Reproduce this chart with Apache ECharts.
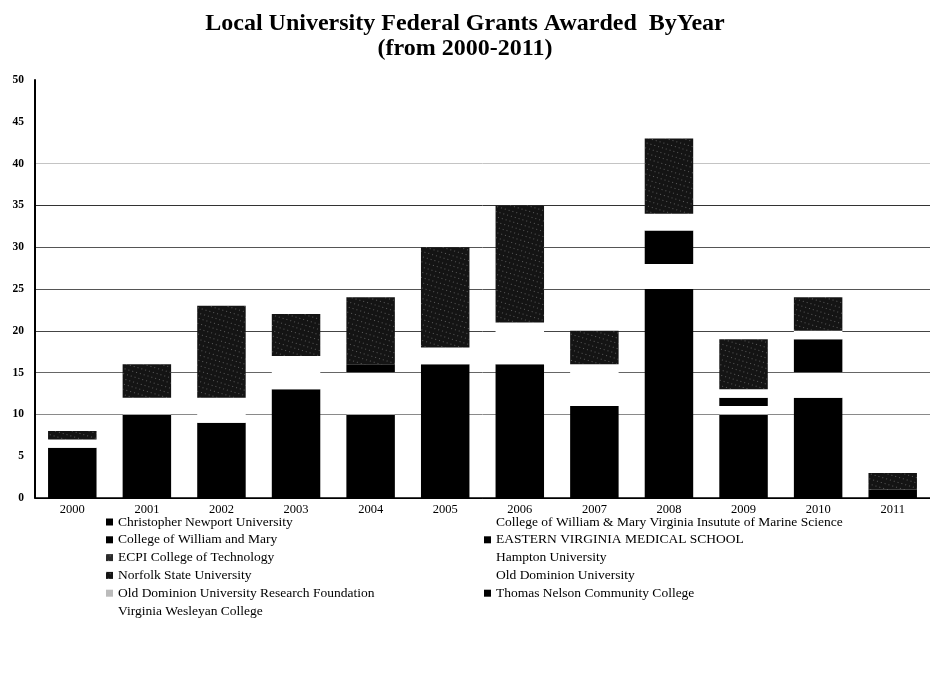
<!DOCTYPE html>
<html>
<head>
<meta charset="utf-8">
<script src="https://cdn.jsdelivr.net/npm/echarts@6/dist/echarts.min.js"></script>
<style>
html,body{margin:0;padding:0;background:#fff;}
#chart{width:930px;height:674px;}
</style>
</head>
<body>
<div id="chart"></div>
<script>
// ---- data ----
var years = ['2000','2001','2002','2003','2004','2005','2006','2007','2008','2009','2010','2011'];
var yTicks = [0,5,10,15,20,25,30,35,40,45,50];
var titleLines = ['Local University Federal Grants Awarded  ByYear', '(from 2000-2011)'];

var christopherNewport = [6,10,9,13,10,16,16,11,25,10,12,1];
var wmVIMS             = [0,0,0,0,5,0,0,0,3,1,3,0];
var williamAndMary     = [0,0,0,0,1,0,0,0,4,1,0,0];
var easternVaMedical   = [0,0,0,0,0,0,0,0,0,0,4,0];
var ecpi               = [0,0,0,0,0,0,0,0,0,0,0,0];
var hampton            = [1,2,3,4,0,2,5,5,2,1,1,0];
var norfolkState       = [1,4,11,5,8,12,14,4,9,6,4,2];
var oldDominion        = [0,0,0,0,0,0,0,0,0,0,0,0];
var oduResearch        = [0,0,0,0,0,0,0,0,0,0,0,0];
var thomasNelson       = [0,0,0,0,0,0,0,0,0,0,0,0];
var virginiaWesleyan   = [0,0,0,0,0,0,0,0,0,0,0,0];

var names = [
  'Christopher Newport University',
  'College of William & Mary Virginia Insutute of Marine Science',
  'College of William and Mary',
  'EASTERN VIRGINIA MEDICAL SCHOOL',
  'ECPI College of Technology',
  'Hampton University',
  'Norfolk State University',
  'Old Dominion University',
  'Old Dominion University Research Foundation',
  'Thomas Nelson Community College',
  'Virginia Wesleyan College'
];
var values = [christopherNewport, wmVIMS, williamAndMary, easternVaMedical, ecpi,
              hampton, norfolkState, oldDominion, oduResearch, thomasNelson, virginiaWesleyan];
var colors = ['#000000','#ffffff','#000000','#000000','#2a2a2a',
              '#ffffff','#141414','#ffffff','#bbbbbb','#000000','#ffffff'];

var speckle = {
  symbol: 'rect', symbolSize: 1, color: 'rgba(255,255,255,0.3)',
  dashArrayX: [1, 3], dashArrayY: [1, 4], rotation: 0.3
};

var series = names.map(function (n, i) {
  var s = {
    name: n, type: 'bar', stack: 'total', data: values[i],
    barWidth: '65%',
    itemStyle: { color: colors[i] },
    emphasis: { disabled: true }
  };
  if (i === 6 || i === 4) s.itemStyle.decal = speckle;
  return s;
});

var serif = '"Liberation Serif", "Times New Roman", serif';
var legendText = { fontFamily: serif, fontSize: 13.5, color: '#000', lineHeight: 14 };
var titleStyle = { fontFamily: serif, fontWeight: 'bold', fontSize: 24, color: '#000' };

var chart = echarts.init(document.getElementById('chart'), null, { renderer: 'canvas' });
chart.setOption({
  animation: false,
  backgroundColor: '#fff',
  title: [
    { text: titleLines[0], left: 'center', top: 7, textStyle: titleStyle },
    { text: titleLines[1], left: 'center', top: 32, textStyle: titleStyle }
  ],
  grid: { left: 35, right: -9, top: 80, bottom: 176, containLabel: false },
  legend: [
    {
      orient: 'vertical', left: 101, top: 510, itemWidth: 7, itemHeight: 7, itemGap: 3.8,
      icon: 'rect', textStyle: legendText, selectedMode: false,
      data: [names[0], names[2], names[4], names[6], names[8], names[10]]
    },
    {
      orient: 'vertical', left: 479, top: 510, itemWidth: 7, itemHeight: 7, itemGap: 3.8,
      icon: 'rect', textStyle: legendText, selectedMode: false,
      data: [names[1], names[3], names[5], names[7], names[9]]
    }
  ],
  xAxis: {
    type: 'category', data: years,
    axisLine: { lineStyle: { color: '#000', width: 1.5 } },
    axisTick: { show: false },
    axisLabel: { fontFamily: serif, fontSize: 12.5, color: '#000', margin: 5 }
  },
  yAxis: {
    type: 'value', min: yTicks[0], max: yTicks[yTicks.length - 1], interval: 5,
    axisLine: { show: true, lineStyle: { color: '#000', width: 2 } },
    axisTick: { show: false },
    axisLabel: { fontFamily: serif, fontSize: 11.5, fontWeight: 'bold', color: '#000', margin: 11 },
    splitLine: { show: true, lineStyle: { width: 1,
      color: ['#000', '#ffffff', '#8a8a8a', '#666', '#444', '#555', '#555', '#333', '#c4c4c4', '#ffffff', '#ffffff'] } }
  },
  series: series
});
</script>
</body>
</html>
